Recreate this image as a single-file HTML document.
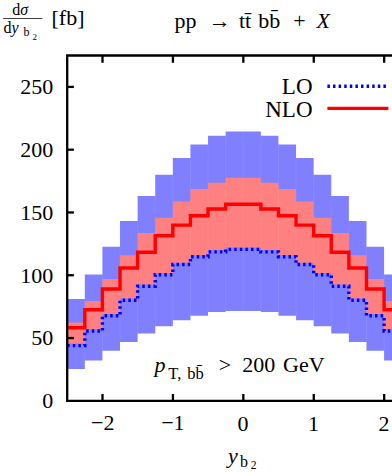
<!DOCTYPE html>
<html><head><meta charset="utf-8"><title>chart</title>
<style>
html,body{margin:0;padding:0;background:#fff;}
body{width:392px;height:473px;overflow:hidden;font-family:"Liberation Serif",serif;}
svg{display:block;}
</style></head><body>
<svg width="392" height="473" viewBox="0 0 392 473" role="img" aria-label="Differential cross section d sigma / d y_b2 in fb for pp to t tbar b bbar + X, LO and NLO, p_T,bb &gt; 200 GeV">
<desc>Histogram of d&#963;/dy_b2 [fb] versus y_b2 for pp &#8594; ttbb + X with p_T,bb &gt; 200 GeV. LO (blue dotted) and NLO (red solid) with uncertainty bands.</desc>
<rect x="0" y="0" width="392" height="473" fill="#ffffff"/>
<g id="bands">
<path d="M 67.20 299.10 L 84.81 299.10 L 84.81 274.40 L 102.41 274.40 L 102.41 246.80 L 120.02 246.80 L 120.02 220.90 L 137.62 220.90 L 137.62 195.90 L 155.22 195.90 L 155.23 174.80 L 172.83 174.80 L 172.83 158.00 L 190.43 158.00 L 190.44 144.50 L 208.04 144.50 L 208.04 135.80 L 225.65 135.80 L 225.64 131.50 L 243.25 131.50 L 243.25 131.50 L 260.86 131.50 L 260.86 135.80 L 278.46 135.80 L 278.46 144.50 L 296.06 144.50 L 296.06 158.00 L 313.67 158.00 L 313.67 174.80 L 331.28 174.80 L 331.27 195.90 L 348.88 195.90 L 348.88 220.90 L 366.49 220.90 L 366.49 246.80 L 384.09 246.80 L 384.09 274.40 L 401.69 274.40 L 401.69 299.10 L 419.30 299.10 L 419.30 369.10 L 401.69 369.10 L 401.69 360.40 L 384.09 360.40 L 384.09 350.80 L 366.49 350.80 L 366.49 341.90 L 348.88 341.90 L 348.88 333.50 L 331.27 333.50 L 331.28 326.20 L 313.67 326.20 L 313.67 320.20 L 296.06 320.20 L 296.06 315.70 L 278.46 315.70 L 278.46 312.10 L 260.86 312.10 L 260.86 311.10 L 243.25 311.10 L 243.25 311.10 L 225.64 311.10 L 225.65 312.10 L 208.04 312.10 L 208.04 315.70 L 190.44 315.70 L 190.43 320.20 L 172.83 320.20 L 172.83 326.20 L 155.23 326.20 L 155.22 333.50 L 137.62 333.50 L 137.62 341.90 L 120.02 341.90 L 120.02 350.80 L 102.41 350.80 L 102.41 360.40 L 84.81 360.40 L 84.81 369.10 L 67.20 369.10 Z" fill="#8080ff"/>
<path d="M 84.81 299.10 V 360.40 M 102.41 274.40 V 350.80 M 120.02 246.80 V 341.90 M 137.62 220.90 V 333.50 M 155.23 195.90 V 326.20 M 172.83 174.80 V 320.20 M 190.44 158.00 V 315.70 M 208.04 144.50 V 312.10 M 225.64 135.80 V 311.10 M 243.25 131.50 V 311.10 M 260.86 135.80 V 311.10 M 278.46 144.50 V 312.10 M 296.06 158.00 V 315.70 M 313.67 174.80 V 320.20 M 331.27 195.90 V 326.20 M 348.88 220.90 V 333.50 M 366.49 246.80 V 341.90 M 384.09 274.40 V 350.80 M 401.69 299.10 V 360.40" stroke="#fff" stroke-opacity="0.07" stroke-width="1" fill="none"/>
<path d="M 67.20 322.60 L 84.81 322.60 L 84.81 300.90 L 102.41 300.90 L 102.41 279.00 L 120.02 279.00 L 120.02 255.30 L 137.62 255.30 L 137.62 233.10 L 155.22 233.10 L 155.23 217.70 L 172.83 217.70 L 172.83 201.60 L 190.43 201.60 L 190.44 188.90 L 208.04 188.90 L 208.04 182.80 L 225.65 182.80 L 225.64 177.70 L 243.25 177.70 L 243.25 177.70 L 260.86 177.70 L 260.86 182.80 L 278.46 182.80 L 278.46 188.90 L 296.06 188.90 L 296.06 201.60 L 313.67 201.60 L 313.67 217.70 L 331.28 217.70 L 331.27 233.10 L 348.88 233.10 L 348.88 255.30 L 366.49 255.30 L 366.49 279.00 L 384.09 279.00 L 384.09 300.90 L 401.69 300.90 L 401.69 322.60 L 419.30 322.60 L 419.30 343.50 L 401.69 343.50 L 401.69 329.20 L 384.09 329.20 L 384.09 314.00 L 366.49 314.00 L 366.49 298.50 L 348.88 298.50 L 348.88 284.50 L 331.27 284.50 L 331.28 272.90 L 313.67 272.90 L 313.67 262.70 L 296.06 262.70 L 296.06 254.90 L 278.46 254.90 L 278.46 249.90 L 260.86 249.90 L 260.86 247.40 L 243.25 247.40 L 243.25 247.40 L 225.64 247.40 L 225.65 249.90 L 208.04 249.90 L 208.04 254.90 L 190.44 254.90 L 190.43 262.70 L 172.83 262.70 L 172.83 272.90 L 155.23 272.90 L 155.22 284.50 L 137.62 284.50 L 137.62 298.50 L 120.02 298.50 L 120.02 314.00 L 102.41 314.00 L 102.41 329.20 L 84.81 329.20 L 84.81 343.50 L 67.20 343.50 Z" fill="#ff8080"/>
<path d="M 84.81 322.60 V 329.20 M 102.41 300.90 V 314.00 M 120.02 279.00 V 298.50 M 137.62 255.30 V 284.50 M 155.23 233.10 V 272.90 M 172.83 217.70 V 262.70 M 190.44 201.60 V 254.90 M 208.04 188.90 V 249.90 M 225.64 182.80 V 247.40 M 243.25 177.70 V 247.40 M 260.86 182.80 V 247.40 M 278.46 188.90 V 249.90 M 296.06 201.60 V 254.90 M 313.67 217.70 V 262.70 M 331.27 233.10 V 272.90 M 348.88 255.30 V 284.50 M 366.49 279.00 V 298.50 M 384.09 300.90 V 314.00 M 401.69 322.60 V 329.20" stroke="#fff" stroke-opacity="0.07" stroke-width="1" fill="none"/>
</g>
<polyline points="67.20,345.60 84.81,345.60 84.81,331.00 102.41,331.00 102.41,315.80 120.02,315.80 120.02,300.30 137.62,300.30 137.62,286.30 155.22,286.30 155.23,274.70 172.83,274.70 172.83,264.50 190.43,264.50 190.44,256.70 208.04,256.70 208.04,251.90 225.65,251.90 225.64,249.40 243.25,249.40 243.25,249.40 260.86,249.40 260.86,251.90 278.46,251.90 278.46,256.70 296.06,256.70 296.06,264.50 313.67,264.50 313.67,274.70 331.28,274.70 331.27,286.30 348.88,286.30 348.88,300.30 366.49,300.30 366.49,315.80 384.09,315.80 384.09,331.00 401.69,331.00 401.69,345.60 419.30,345.60" fill="none" stroke="#0000ff" stroke-width="3.4" stroke-dasharray="2.5 3.1" stroke-linejoin="miter"/>
<polyline points="67.20,327.70 84.81,327.70 84.81,309.80 102.41,309.80 102.41,289.00 120.02,289.00 120.02,268.00 137.62,268.00 137.62,252.20 155.22,252.20 155.23,235.80 172.83,235.80 172.83,225.10 190.43,225.10 190.44,215.70 208.04,215.70 208.04,209.00 225.65,209.00 225.64,204.20 243.25,204.20 243.25,204.20 260.86,204.20 260.86,209.00 278.46,209.00 278.46,215.70 296.06,215.70 296.06,225.10 313.67,225.10 313.67,235.80 331.28,235.80 331.27,252.20 348.88,252.20 348.88,268.00 366.49,268.00 366.49,289.00 384.09,289.00 384.09,309.80 401.69,309.80 401.69,327.70 419.30,327.70" fill="none" stroke="#ff0000" stroke-width="3.4" stroke-linejoin="miter"/>
<g stroke="#000" stroke-width="2.3" fill="none" stroke-linecap="butt">
<path d="M 400 55.5 H 67.2 V 400.8 H 400"/>
<path d="M 102.50 400.8 v -6.8 M 102.50 55.5 v 7.3"/>
<path d="M 172.92 400.8 v -6.8 M 172.92 55.5 v 7.3"/>
<path d="M 243.34 400.8 v -6.8 M 243.34 55.5 v 7.3"/>
<path d="M 313.76 400.8 v -6.8 M 313.76 55.5 v 7.3"/>
<path d="M 384.18 400.8 v -6.8 M 384.18 55.5 v 7.3"/>
<path d="M 67.2 338.02 h 6.7"/>
<path d="M 67.2 275.24 h 6.7"/>
<path d="M 67.2 212.46 h 6.7"/>
<path d="M 67.2 149.68 h 6.7"/>
<path d="M 67.2 86.90 h 6.7"/>
</g>
<g id="labels" fill="#000" font-size="22" style="font-family:'Liberation Serif',serif">
<text x="53.3" y="408.2" text-anchor="end">0</text>
<text x="53.3" y="345.4" text-anchor="end">50</text>
<text x="53.3" y="282.7" text-anchor="end">100</text>
<text x="53.3" y="219.9" text-anchor="end">150</text>
<text x="53.3" y="157.1" text-anchor="end">200</text>
<text x="53.3" y="94.3" text-anchor="end">250</text>
<text x="102.8" y="430" text-anchor="middle">−2</text>
<text x="172.9" y="430" text-anchor="middle">−1</text>
<text x="243.1" y="430.9" text-anchor="middle">0</text>
<text x="313.5" y="430.9" text-anchor="middle">1</text>
<text x="384" y="430.9" text-anchor="middle">2</text>
<text x="312.5" y="94.2" text-anchor="end" font-size="23">LO</text>
<text x="312.5" y="116.8" text-anchor="end" font-size="23">NLO</text>
<text x="228" y="463" font-style="italic">y</text>
<text x="240" y="467.2" font-size="16">b</text>
<text x="250.8" y="469.4" font-size="11.5">2</text>
<text x="154.6" y="372.4" font-style="italic">p</text>
<text x="168.3" y="378.9" font-size="16.5">T,</text>
<text x="187.2" y="378.9" font-size="16.5">bb&#772;</text>
<text x="225" y="372.4" text-anchor="middle">&gt;</text>
<text x="242.3" y="372.4">200</text>
<text x="283" y="372.4">GeV</text>
<text x="12.2" y="15.1" font-size="16">d<tspan font-style="italic">σ</tspan></text>
<g transform="translate(-21.85,-15.65) scale(2.2300,2.2300)"><path d="M 11.195 15.074 H 28.777 V 15.472 H 11.195 Z"/></g>
<text x="3.6" y="33" font-size="16">d<tspan font-style="italic">y</tspan></text>
<text x="23.5" y="36.2" font-size="12">b</text>
<text x="32.6" y="40" font-size="9">2</text>
<text x="51.5" y="24.5">[fb]</text>
<text x="174.4" y="28.4">pp</text>
<text x="219.8" y="28.4" text-anchor="middle">→</text>
<text x="239" y="28.4">tt&#772;</text>
<text x="258.2" y="28.4">bb&#772;</text>
<text x="299.5" y="28.4" text-anchor="middle">+</text>
<text x="316.5" y="28.4" font-style="italic">X</text>
</g>
<path d="M 327.4 86.2 H 388" stroke="#0000ff" stroke-width="3.4" stroke-dasharray="2.5 3.1"/>
<path d="M 327.4 108.4 H 388.4" stroke="#ff0000" stroke-width="3.4"/>
</svg>
</body></html>
